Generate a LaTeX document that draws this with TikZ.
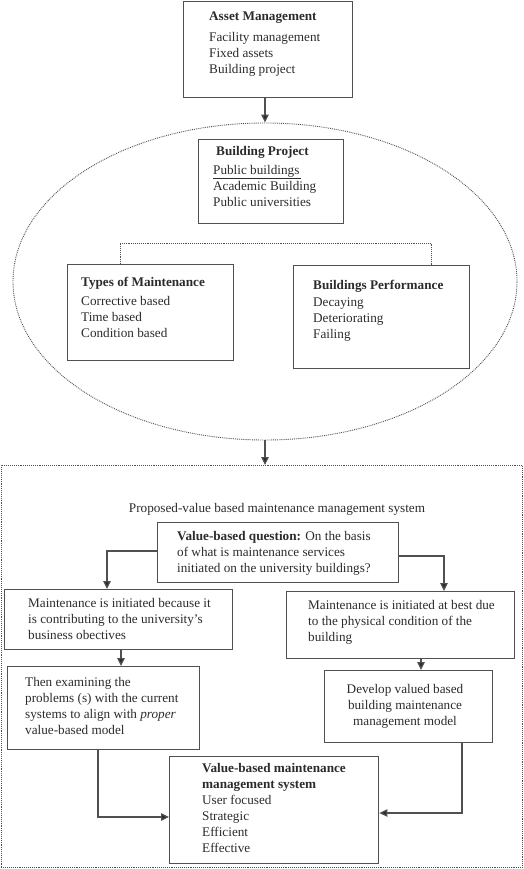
\documentclass[tikz,border=0pt]{standalone}
\usepackage{fontspec}
\setmainfont{Liberation Serif}
\usetikzlibrary{shapes.geometric,arrows.meta,calc}
\definecolor{ink}{HTML}{2B2B2B}
\definecolor{edge}{HTML}{505050}
\begin{document}
\begin{tikzpicture}[x=1pt,y=-1pt,
  box/.style={draw=edge, line width=1.4pt, rectangle, inner sep=0pt, anchor=north west},
  txt/.style={inner sep=0pt, anchor=north west, align=left, text=ink, font=\fontsize{13.2}{16}\selectfont},
  arr/.style={draw=edge, line width=1.2pt, -{Triangle[length=8pt,width=7.5pt,fill=ink]}},
  dots/.style={draw=edge, line width=0.9pt, densely dotted},
]
\useasboundingbox (0,0) rectangle (524,869);

% outer containers
\node[ellipse, dots, inner sep=0pt, minimum width=504pt, minimum height=317pt] (ell) at (265,281.5) {};
\node[rectangle, dots, inner sep=0pt, anchor=north west, minimum width=521pt, minimum height=402pt] (outer) at (1,465) {};

% boxes
\node[box, minimum width=169pt, minimum height=96pt] (am) at (183,1) {};
\node[box, minimum width=145pt, minimum height=84pt] (bp) at (198,139) {};
\node[box, minimum width=166pt, minimum height=96pt] (tm) at (67,264) {};
\node[box, minimum width=176pt, minimum height=103pt] (bperf) at (293,265) {};
\node[box, minimum width=241pt, minimum height=60pt] (vq) at (157,522) {};
\node[box, minimum width=228pt, minimum height=60pt] (lb1) at (4,589) {};
\node[box, minimum width=228pt, minimum height=67pt] (rb1) at (286,591) {};
\node[box, minimum width=192pt, minimum height=83pt] (lb2) at (7,666) {};
\node[box, minimum width=168pt, minimum height=72pt] (rb2) at (324,670) {};
\node[box, minimum width=209pt, minimum height=107pt] (bot) at (169,756) {};

% texts
\node[txt] (amt) at (209,12) {\textbf{Asset Management}\\[5pt]Facility management\\Fixed assets\\Building project};
\node[txt] (bpt) at (213,146) {\hspace*{3pt}\textbf{Building Project}\\[3pt]\underline{Public buildings\hspace*{2pt}}\\Academic Building\\Public universities};
\node[txt] (tmt) at (81,277) {\textbf{Types of Maintenance}\\[3pt]Corrective based\\Time based\\Condition based};
\node[txt] (bperft) at (313,280) {\textbf{Buildings Performance}\\[1pt]Decaying\\Deteriorating\\Failing};
\node[txt, anchor=north] (prop) at (277,503) {Proposed-value based maintenance management system};
\node[txt] (vqt) at (177,531) {\textbf{Value-based question:} On the basis\\of what is maintenance services\\initiated on the university buildings?};
\node[txt] (lb1t) at (28,598) {Maintenance is initiated because it\\is contributing to the university’s\\business obectives};
\node[txt] (rb1t) at (308,600) {Maintenance is initiated at best due\\to the physical condition of the\\building};
\node[txt] (lb2t) at (25,677) {Then examining the\\problems (s) with the current\\systems to align with \textit{proper}\\value-based model};
\node[txt, anchor=north, align=center] (rb2t) at (405,684) {Develop valued based\\building maintenance\\management model};
\node[txt] (bott) at (202,763) {\textbf{Value-based maintenance}\\\textbf{management system}\\User focused\\Strategic\\Efficient\\Effective};

% dotted bracket
\coordinate (bl) at (120,243);
\coordinate (br) at (431,243);
\draw[dots, line width=0.6pt] (bl |- tm.north) -- (bl) -- (br) -- (br |- bperf.north);

% arrows
\draw[arr] (ell.north |- am.south) -- (ell.north);
\draw[arr] (ell.south) -- (ell.south |- outer.north);
\draw[arr] ($(vq.north west)+(0,29)$) -| ($(lb1.north west)+(103,0)$);
\draw[arr] ($(vq.north east)+(-1,34)$) -| ($(rb1.north west)+(158,0)$);
\draw[arr] ($(lb1.south west)+(117,0)$) -- ($(lb2.north west)+(114,0)$);
\draw[arr] ($(rb1.south west)+(135,0)$) -- ($(rb2.north west)+(97,0)$);
\draw[arr] ($(lb2.south west)+(91,0)$) |- ($(bot.north west)+(0,61)$);
\draw[arr] ($(rb2.south west)+(138,0)$) |- ($(bot.north east)+(0,57)$);
\end{tikzpicture}
\end{document}
